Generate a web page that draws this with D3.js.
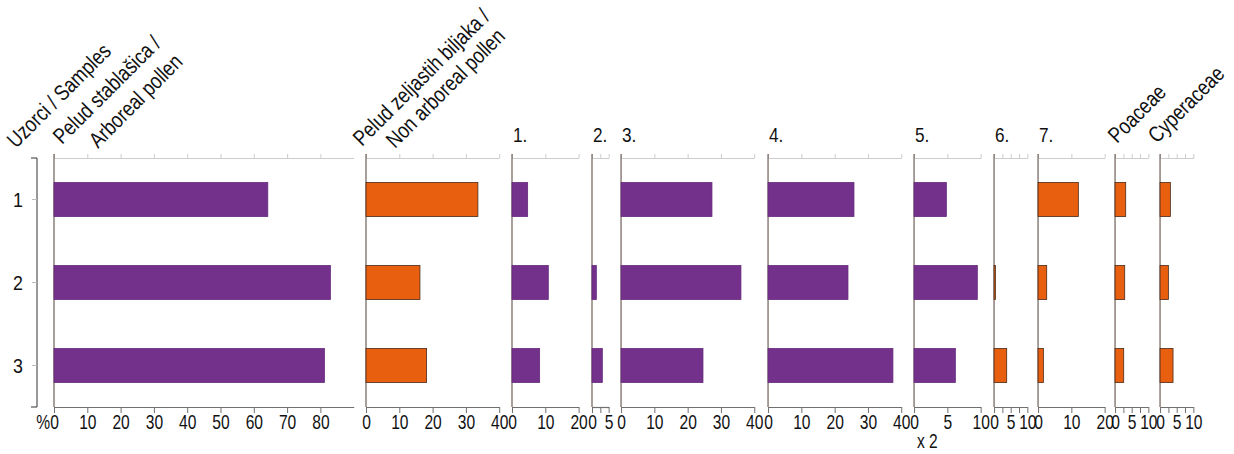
<!DOCTYPE html>
<html>
<head>
<meta charset="utf-8">
<title>Pollen diagram</title>
<script src="https://cdnjs.cloudflare.com/ajax/libs/d3/7.8.5/d3.min.js"></script>
<style>
    body { margin: 0; background: #fff; }
    text {
        font-family: "Liberation Sans", Arial, sans-serif;
        fill: #111;
    }
    .bottom-axis path, .bottom-axis line { stroke: #707070; }
    .top-axis path, .top-axis line { stroke: #cccccc; }
    .bottom-axis text { font-size: 20px; fill: #111; }
</style>
</head>
<body>
<svg id="chart" width="1234" height="454"></svg>
<script>
// samples (rows)
var samples = ["1", "2", "3"];

// percentages, one value per sample
var arboreal    = [64.2, 83.0, 81.2];
var nonArboreal = [33.6, 16.2, 18.2];
var type1       = [4.7, 10.9, 8.3];
var type2       = [0, 1.3, 3.1];
var type3       = [27.3, 36.0, 24.6];
var type4       = [25.8, 24.0, 37.5];
var type5       = [4.85, 9.5, 6.2];
var type6       = [0, 0.4, 3.8];
var type7       = [12.1, 2.6, 1.6];
var poaceae     = [3.2, 2.9, 2.6];
var cyperaceae  = [3.1, 2.5, 3.9];

var purple = "#74318c",
    orange = "#e8600f";

// one entry per column of the diagram
var panels = [
    {values: arboreal,    max: 90, ex: 1, ticks: d3.range(0, 81, 10), labels: d3.range(0, 81, 10), color: purple},
    {values: nonArboreal, max: 40, ex: 1, ticks: d3.range(0, 41, 10), labels: d3.range(0, 41, 10), color: orange},
    {values: type1, max: 20, ex: 1, ticks: [0, 10, 20], labels: [0, 10, 20], color: purple, name: "1."},
    {values: type2, max: 5,  ex: 1, ticks: [0, 2.5, 5], labels: [0, 5], color: purple, name: "2."},
    {values: type3, max: 40, ex: 1, ticks: d3.range(0, 41, 10), labels: d3.range(0, 41, 10), color: purple, name: "3."},
    {values: type4, max: 40, ex: 1, ticks: d3.range(0, 41, 10), labels: d3.range(0, 41, 10), color: purple, name: "4."},
    {values: type5, max: 10, ex: 2, ticks: [0, 5, 10], labels: [0, 5, 10], color: purple, name: "5."},
    {values: type6, max: 10, ex: 1, ticks: [0, 2.5, 5, 7.5, 10], labels: [0, 5, 10], color: orange, name: "6."},
    {values: type7, max: 20, ex: 1, ticks: [0, 10, 20], labels: [0, 10, 20], color: orange, name: "7."},
    {values: poaceae,    max: 10, ex: 1, ticks: [0, 2.5, 5, 7.5, 10], labels: [0, 5, 10], color: orange},
    {values: cyperaceae, max: 10, ex: 1, ticks: [0, 2.5, 5, 7.5, 10], labels: [0, 5, 10], color: orange}
];

var svg = d3.select("#chart");

var top0 = 158, bottom0 = 407,
    left0 = 54,
    k = 3.33,                                            // px per percent
    gaps = [0, 12.3, 12.8, 13.4, 12.4, 13.8, 12.8, 13.4, 10.7, 10.4, 11.7],
    narrow = "scale(0.78,1)";                            // condensed look

var xPos = left0;
panels.forEach(function(p, i) {
    xPos += gaps[i];
    p.x0 = xPos;
    p.x1 = xPos + p.max * p.ex * k;
    p.x = d3.scaleLinear().domain([0, p.max]).range([p.x0, p.x1]);
    xPos = p.x1;
});

var y = d3.scaleBand()
    .domain(samples)
    .range([top0, bottom0])
    .paddingInner(0.59)
    .paddingOuter(0.295);

// sample axis on the left
var sampleAxis = svg.append("g");
sampleAxis.append("line")
    .attr("x1", 37).attr("x2", 37)
    .attr("y1", top0).attr("y2", bottom0)
    .attr("stroke", "#333").attr("stroke-width", 1);
sampleAxis.selectAll("line.end")
    .data([top0, bottom0])
    .enter().append("line")
    .attr("class", "end")
    .attr("x1", 31).attr("x2", 37)
    .attr("y1", function(d) { return d; })
    .attr("y2", function(d) { return d; })
    .attr("stroke", "#333");
sampleAxis.selectAll("line.tk")
    .data(samples)
    .enter().append("line")
    .attr("class", "tk")
    .attr("x1", 32).attr("x2", 37)
    .attr("y1", function(d) { return y(d) + y.bandwidth() / 2; })
    .attr("y2", function(d) { return y(d) + y.bandwidth() / 2; })
    .attr("stroke", "#bbb");
sampleAxis.selectAll("text")
    .data(samples)
    .enter().append("text")
    .attr("transform", function(d) { return "translate(18," + (y(d) + y.bandwidth() / 2) + ") scale(0.85,1)"; })
    .attr("dy", "0.36em")
    .attr("text-anchor", "middle")
    .style("font-size", "21px")
    .text(function(d) { return d; });

svg.append("text")
    .attr("transform", "translate(50,429) " + narrow)
    .attr("text-anchor", "end")
    .style("font-size", "20px")
    .text("%");

var col = svg.selectAll("g.panel")
    .data(panels)
    .enter().append("g")
    .attr("class", "panel");

col.each(function(p) {
    // faint top axis
    d3.select(this).append("g")
        .attr("class", "top-axis")
        .attr("transform", "translate(0," + top0 + ")")
        .call(d3.axisTop(p.x).tickValues(p.ticks).tickSize(4).tickSizeOuter(0).tickFormat(""));

    d3.select(this).append("g")
        .attr("class", "bottom-axis")
        .attr("transform", "translate(0," + bottom0 + ")")
        .call(d3.axisBottom(p.x).tickValues(p.ticks).tickSize(6).tickSizeOuter(0).tickPadding(2)
            .tickFormat(function(d) { return p.labels.indexOf(d) >= 0 ? d : ""; }))
        .call(function(g) {
            g.select(".domain").attr("stroke-width", 1.2);
            g.selectAll(".tick text").attr("transform", narrow);
        });
});

// left edge of each column
col.append("line")
    .attr("x1", function(p) { return p.x0; })
    .attr("x2", function(p) { return p.x0; })
    .attr("y1", top0 - 4)
    .attr("y2", bottom0)
    .attr("stroke", "#6e6058")
    .attr("stroke-width", 1.2);

// bars
col.selectAll("rect")
    .data(function(p) {
        return p.values.map(function(v, i) { return {p: p, v: v, s: samples[i]}; });
    })
    .enter().append("rect")
    .filter(function(d) { return d.v > 0; })
    .attr("x", function(d) { return d.p.x0; })
    .attr("y", function(d) { return y(d.s); })
    .attr("width", function(d) { return d.p.x(d.v) - d.p.x0; })
    .attr("height", y.bandwidth())
    .attr("fill", function(d) { return d.p.color; })
    .attr("stroke", function(d) { return d.p.color === orange ? "#4a2a18" : "#66287c"; })
    .attr("stroke-width", 0.8);

// column numbers
col.filter(function(p) { return p.name; })
    .append("text")
    .attr("transform", function(p) { return "translate(" + (p.x0 + 1) + ",142) scale(0.82,1)"; })
    .style("font-size", "21px")
    .text(function(p) { return p.name; });

// rotated headers
var headers = [
    {text: "Uzorci / Samples", x: 16, y: 149},
    {text: "Pelud stablašica /", x: panels[0].x0 + 8, y: 145},
    {text: "Arboreal pollen", x: panels[0].x0 + 44, y: 149},
    {text: "Pelud zeljastih biljaka /", x: panels[1].x0 - 4, y: 147},
    {text: "Non arboreal pollen", x: panels[1].x0 + 29, y: 149},
    {text: "Poaceae", x: panels[9].x0 + 2, y: 144},
    {text: "Cyperaceae", x: panels[10].x0 - 3, y: 144}
];
svg.selectAll("text.hdr")
    .data(headers)
    .enter().append("text")
    .attr("class", "hdr")
    .attr("transform", function(d) { return "translate(" + d.x + "," + d.y + ") rotate(-45) scale(0.82,1)"; })
    .style("font-size", "22px")
    .text(function(d) { return d.text; });

// exaggeration note under column 5
svg.append("text")
    .attr("transform", "translate(" + panels[6].x(2) + ",448) " + narrow)
    .attr("text-anchor", "middle")
    .style("font-size", "20px")
    .text("x 2");
</script>
</body>
</html>
